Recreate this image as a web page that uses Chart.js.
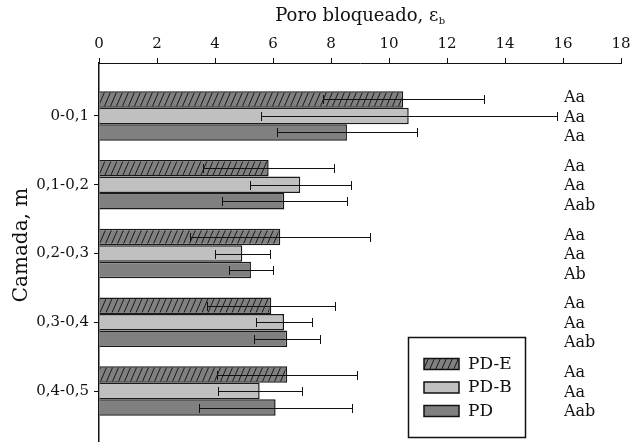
<!DOCTYPE html>
<html>
<head>
<meta charset="utf-8">
<script src="https://cdn.jsdelivr.net/npm/chart.js@4.4.0/dist/chart.umd.min.js"></script>
<style>
html,body{margin:0;padding:0;background:#fff;}
#wrap{width:630px;height:442px;}
</style>
</head>
<body>
<div id="wrap"><canvas id="c" width="630" height="442"></canvas></div>
<script>
const categories = ['0-0,1', '0,1-0,2', '0,2-0,3', '0,3-0,4', '0,4-0,5'];
const seriesNames = ['PD-E', 'PD-B', 'PD'];
const pdE = [10.49, 5.85, 6.25, 5.94, 6.49];
const pdB = [10.68, 6.94, 4.94, 6.38, 5.54];
const pd  = [8.55, 6.39, 5.24, 6.49, 6.09];
const sdPdE = [2.78, 2.25, 3.10, 2.20, 2.42];
const sdPdB = [5.10, 1.75, 0.95, 0.95, 1.45];
const sdPd  = [2.42, 2.15, 0.77, 1.13, 2.65];
const letters = [
  ['Aa', 'Aa', 'Aa'],
  ['Aa', 'Aa', 'Aab'],
  ['Aa', 'Aa', 'Ab'],
  ['Aa', 'Aa', 'Aab'],
  ['Aa', 'Aa', 'Aab']
];
const xTicks = [0, 2, 4, 6, 8, 10, 12, 14, 16, 18];

const FONT = '"DejaVu Serif", serif';
const INK = '#111';

function hatch(bg) {
  const w = 6, h = 14;
  const c = document.createElement('canvas');
  c.width = w; c.height = h;
  const g = c.getContext('2d');
  g.fillStyle = bg; g.fillRect(0, 0, w, h);
  g.strokeStyle = '#1a1a1a'; g.lineWidth = 1;
  for (const dx of [-w, 0, w]) {
    g.beginPath(); g.moveTo(dx, h); g.lineTo(dx + w, 0); g.stroke();
  }
  return g.createPattern(c, 'repeat');
}
const fills = [hatch('#808080'), '#c0c0c0', '#808080'];
const values = [pdE, pdB, pd];
const sds = [sdPdE, sdPdB, sdPd];

const custom = {
  id: 'custom',
  afterDatasetsDraw(chart) {
    const ctx = chart.ctx, xs = chart.scales.x;
    ctx.save();
    ctx.strokeStyle = INK; ctx.lineWidth = 1;
    values.forEach((vals, i) => {
      const meta = chart.getDatasetMeta(i);
      meta.data.forEach((bar, j) => {
        const y = Math.round(bar.y) + 0.5;
        const x1 = Math.round(xs.getPixelForValue(vals[j] - sds[i][j])) + 0.5;
        const x2 = Math.round(xs.getPixelForValue(vals[j] + sds[i][j])) + 0.5;
        ctx.beginPath();
        ctx.moveTo(x1, y); ctx.lineTo(x2, y);
        ctx.moveTo(x1, y - 4.5); ctx.lineTo(x1, y + 4.5);
        ctx.moveTo(x2, y - 4.5); ctx.lineTo(x2, y + 4.5);
        ctx.stroke();
      });
    });
    ctx.restore();
  },
  afterDraw(chart) {
    const ctx = chart.ctx, ca = chart.chartArea, ys = chart.scales.y;
    ctx.save();
    ctx.fillStyle = INK;
    // x title with subscript
    ctx.font = '18px ' + FONT;
    const main = 'Poro bloqueado, ε';
    const w1 = ctx.measureText(main).width;
    ctx.font = '10px ' + FONT;
    const w2 = ctx.measureText('b').width;
    const cx = (ca.left + ca.right) / 2;
    const sx = cx - (w1 + w2) / 2;
    ctx.textBaseline = 'alphabetic'; ctx.textAlign = 'left';
    ctx.font = '18px ' + FONT;
    ctx.fillText(main, sx, 21);
    ctx.font = '10px ' + FONT;
    ctx.fillText('b', sx + w1 + 0.5, 24);
    // y title
    ctx.save();
    ctx.font = '20px ' + FONT;
    ctx.translate(27, 245);
    ctx.rotate(-Math.PI / 2);
    ctx.textAlign = 'center';
    ctx.fillText('Camada, m', 0, 0);
    ctx.restore();
    // significance letters
    ctx.font = '16px ' + FONT;
    ctx.textAlign = 'left'; ctx.textBaseline = 'middle';
    letters.forEach((row, j) => {
      const yc = ys.getPixelForValue(j) + 1.5;
      row.forEach((t, i) => ctx.fillText(t, 564, yc + (i - 1) * 19.5));
    });
    // legend
    ctx.strokeStyle = INK; ctx.lineWidth = 1.5;
    ctx.strokeRect(408.5, 337.5, 117, 100);
    const rows = [364, 387.5, 411];
    ctx.font = '17px ' + FONT;
    seriesNames.forEach((n, i) => {
      ctx.fillStyle = fills[i];
      ctx.fillRect(424, rows[i] - 5.5, 35, 11);
      ctx.strokeStyle = INK; ctx.lineWidth = 1.5;
      ctx.strokeRect(424, rows[i] - 5.5, 35, 11);
      ctx.fillStyle = INK;
      ctx.fillText(n, 468, rows[i] + 0.5);
    });
    ctx.restore();
  }
};

const datasets = seriesNames.map((n, i) => ({
  label: n,
  data: values[i].map((v, j) => ({ x: v, y: j })),
  backgroundColor: fills[i],
  borderColor: '#1a1a1a',
  borderWidth: 1.5,
  categoryPercentage: 0.72,
  barPercentage: 1.0
}));

new Chart(document.getElementById('c'), {
  type: 'bar',
  data: { datasets },
  options: {
    responsive: false,
    animation: false,
    indexAxis: 'y',
    layout: { padding: { left: 0, right: 9, top: 0, bottom: 0 } },
    plugins: { legend: { display: false }, tooltip: { enabled: false } },
    scales: {
      x: {
        type: 'linear', position: 'top', min: 0, max: 18, offset: false,
        afterFit(s) { s.height = 63; s.paddingLeft = 0; s.paddingRight = 0; },
        afterBuildTicks(s) { s.ticks = xTicks.map(v => ({ value: v })); },
        ticks: { color: INK, font: { family: FONT, size: 15 }, padding: 5 },
        grid: { offset: false, drawOnChartArea: false, drawTicks: true, tickLength: 5, color: INK },
        border: { display: true, color: INK, width: 1 }
      },
      y: {
        type: 'linear', reverse: true, min: -0.77, max: 4.74, offset: false,
        afterFit(s) { s.width = 99; s.paddingTop = 0; s.paddingBottom = 0; },
        afterBuildTicks(s) { s.ticks = categories.map((c, i) => ({ value: i })); },
        ticks: { color: INK, font: { family: FONT, size: 15 }, padding: 5,
                 callback: (v) => categories[v] },
        grid: { offset: false, drawOnChartArea: false, drawTicks: true, tickLength: 5, color: INK },
        border: { display: true, color: INK, width: 1.5 }
      }
    }
  },
  plugins: [custom]
});
</script>
</body>
</html>
